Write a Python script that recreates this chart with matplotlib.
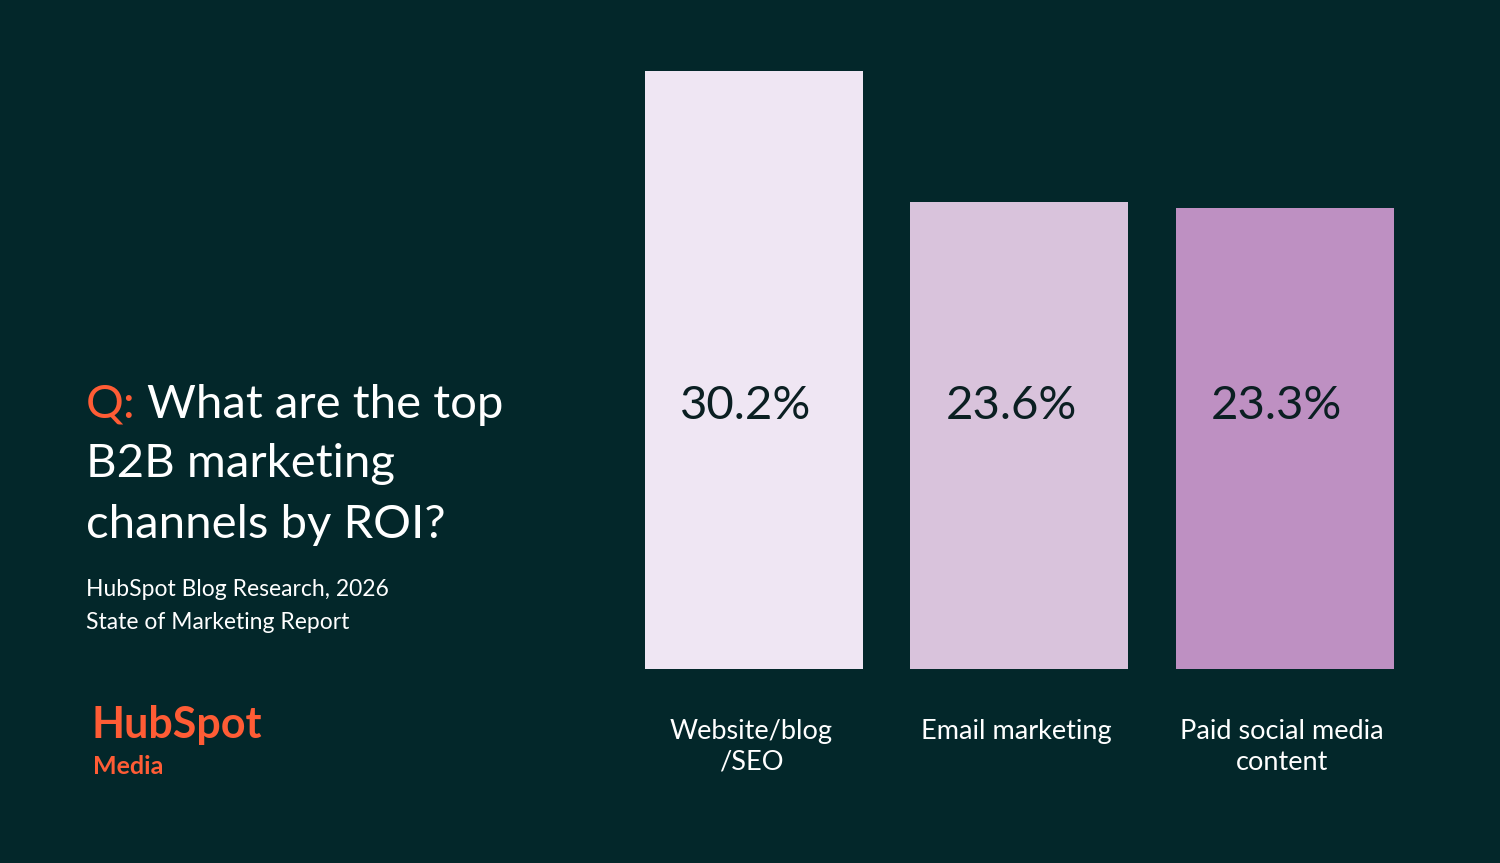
import matplotlib
matplotlib.use("Agg")
import matplotlib.pyplot as plt

categories = ["Website/blog\n/SEO", "Email marketing", "Paid social media\ncontent"]
values = [30.2, 23.6, 23.3]
labels = ["30.2%", "23.6%", "23.3%"]
colors = ["#efe6f3", "#d9c3dc", "#be90c2"]

BG = "#03272a"
OR = "#ff5c35"
plt.rcParams['font.family'] = ['Lato', 'DejaVu Sans']
fig = plt.figure(figsize=(15, 8.63), dpi=100, facecolor=BG)
ax = fig.add_axes([0.43, 0.2248, 0.499, 0.693])
ax.set_facecolor(BG)
x = range(len(values))
ax.bar(x, values, width=0.82, color=colors)
ax.set_xlim(-0.41, 2.41)
ax.set_ylim(0, 30.2)
ax.axis('off')
for i, (v, l) in enumerate(zip(values, labels)):
    ax.text(i - 0.03, 13.3, l, ha='center', va='center', fontsize=34, color="#0b1f22")
    ax.text(i - 0.01, -2.5, categories[i], ha='center', va='top', fontsize=19.5, color="white", linespacing=1.3)

fig.text(0.057, 0.531, "Q:", color=OR, fontsize=34, va='center')
fig.text(0.098, 0.531, "What are the top", color="white", fontsize=34, va='center')
fig.text(0.057, 0.462, "B2B marketing", color="white", fontsize=34, va='center')
fig.text(0.057, 0.392, "channels by ROI?", color="white", fontsize=34, va='center')
fig.text(0.057, 0.317, "HubSpot Blog Research, 2026", color="white", fontsize=16.5, va='center')
fig.text(0.057, 0.279, "State of Marketing Report", color="white", fontsize=16.5, va='center')
fig.text(0.061, 0.16, "HubSpot", color=OR, fontsize=31, fontweight='bold', va='center')
fig.text(0.062, 0.112, "Media", color=OR, fontsize=18, fontweight='bold', va='center')
fig.savefig("out.png", dpi=100, facecolor=BG)
